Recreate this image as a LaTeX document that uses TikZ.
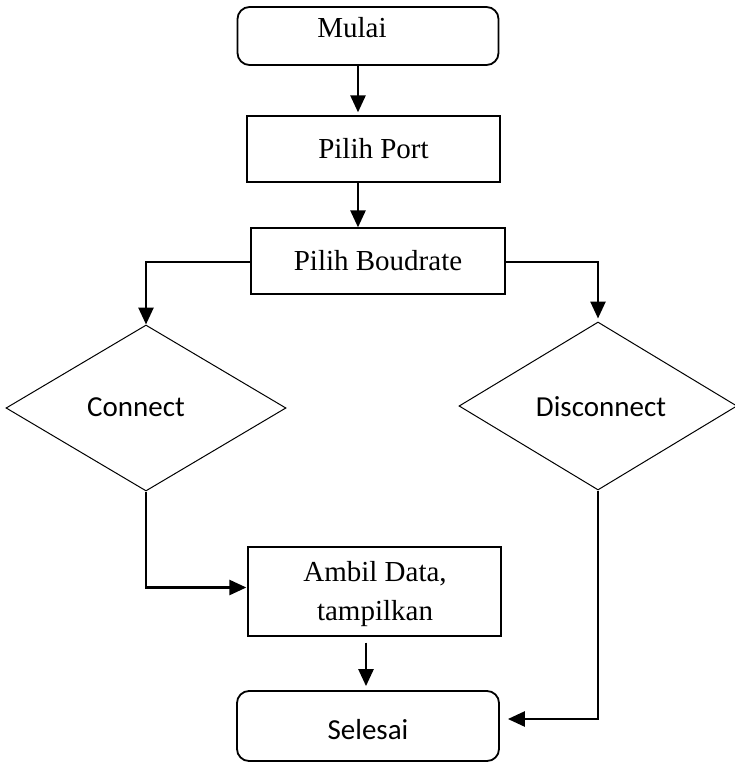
\documentclass[tikz,border=0pt]{standalone}
\usepackage{fontspec}
\setmainfont{Liberation Serif}
\newfontfamily\calib{Carlito}
\usetikzlibrary{shapes.geometric,arrows.meta}

\tikzset{
  serif/.style={font=\fontsize{29}{37}\selectfont},
  sans/.style={font=\calib\fontsize{29}{35}\selectfont},
  terminal/.style={draw, line width=1.8pt, rounded corners=12pt, minimum width=261pt, inner sep=0pt},
  process/.style={draw, line width=1.3pt, inner sep=0pt, align=center},
  decision/.style={draw, diamond, line width=1pt, inner sep=0pt},
  flow/.style={line width=2.6pt, -{Triangle[length=17pt,width=15pt]}},
}

\begin{document}
\begin{tikzpicture}[x=1pt,y=-1pt]
\useasboundingbox (0,0) rectangle (735,762);

% start / end terminals
\node[terminal, minimum height=58pt] (mulai) at (368,36) {};
\node[serif] (mulaitext) at (352,28) {Mulai};
\node[terminal, minimum width=262pt, minimum height=70pt] (selesai) at (368,726) {};
\node[sans] (selesaitext) at (368,730) {Selesai};

% process steps
\node[process, serif, minimum width=253pt, minimum height=66pt] (port) at (373.5,149) {Pilih Port};
\node[process, serif, minimum width=254pt, minimum height=66pt] (baud) at (378,261) {Pilih Boudrate};
\node[process, serif, minimum width=253pt, minimum height=89pt] (ambil) at (374.5,591.5) {};
\node[serif, align=center] (ambiltext) at (375,594) {Ambil Data,\\[2pt]tampilkan};

% decisions
\node[decision, minimum width=280pt, minimum height=166pt] (conn) at (146,408) {};
\node[sans] (conntext) at (136,407) {Connect};
\node[decision, minimum width=278pt, minimum height=168pt] (disc) at (598,406) {};
\node[sans] (disctext) at (601,407) {Disconnect};

% connectors
\draw[flow, shorten >=3pt] ([xshift=-10pt]mulai.south) -- ([xshift=-10pt]mulai.south |- port.north);
\draw[flow] ([xshift=-15.5pt]port.south) -- ([xshift=-15.5pt]port.south |- baud.north);
\draw[flow] ([yshift=-1pt]baud.west) -| (conn.north);
\draw[flow, shorten >=3pt] ([yshift=-1pt]baud.east) -| (disc.north);
\draw[flow, shorten >=1pt] (conn.south) |- ([yshift=4pt]ambil.west);
\draw[flow, shorten <=6pt, shorten >=4pt] ([xshift=-8.5pt]ambil.south) -- ([xshift=-8.5pt]ambil.south |- selesai.north);
\draw[flow, shorten >=8pt] (disc.south) |- ([yshift=7pt]selesai.east);
\end{tikzpicture}
\end{document}
